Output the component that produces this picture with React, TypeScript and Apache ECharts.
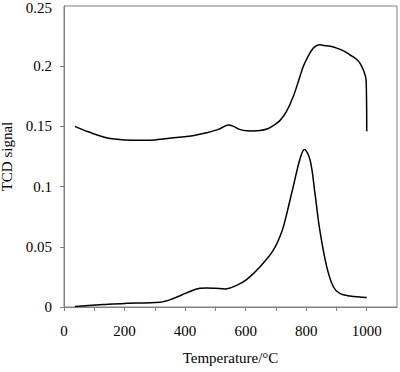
import React, { useEffect, useRef } from "react";
import * as echarts from "echarts";

const upperT = [36, 80, 140, 200, 260, 300, 372, 430, 471, 510, 530, 543, 560, 580, 603, 625, 647, 670, 690, 713, 735, 757, 775, 790, 808, 823, 835, 845, 860, 880, 901, 925, 945, 965, 978, 990, 998, 1000];
const upperV = [0.150, 0.1455, 0.1405, 0.1388, 0.1386, 0.1388, 0.1408, 0.1425, 0.1447, 0.1475, 0.150, 0.1511, 0.150, 0.1475, 0.1463, 0.1462, 0.1465, 0.1478, 0.1505, 0.1548, 0.1625, 0.1746, 0.188, 0.1996, 0.209, 0.2149, 0.2172, 0.2178, 0.2172, 0.2165, 0.215, 0.2125, 0.2093, 0.206, 0.2024, 0.196, 0.1885, 0.146];

const lowerT = [36, 130, 200, 317, 361, 405, 449, 471, 500, 532, 570, 603, 647, 691, 720, 736, 757, 780, 794, 813, 829, 845, 868, 890, 912, 945, 1000];
const lowerV = [0.0005, 0.002, 0.003, 0.004, 0.007, 0.0117, 0.0155, 0.0158, 0.0155, 0.015, 0.018, 0.0228, 0.0333, 0.047, 0.063, 0.0777, 0.0998, 0.1234, 0.1309, 0.122, 0.0943, 0.0638, 0.0333, 0.0166, 0.0111, 0.0092, 0.0078];

const xLabels = ["0", "200", "400", "600", "800", "1000"];
const yTop = 0.25;

const FONT = "Liberation Serif";

export default function App() {
  const ref = useRef<HTMLDivElement>(null);
  useEffect(() => {
    if (!ref.current) return;
    const chart = echarts.init(ref.current, null, { renderer: "svg" });
    const pair = (t: number[], v: number[]) => t.map((x, i) => [x, v[i]]);
    chart.setOption({
      animation: false,
      textStyle: { fontFamily: FONT },
      grid: {
        left: 64,
        right: 3,
        top: 6,
        bottom: 65,
        containLabel: false,
        outerBoundsMode: "none",
        show: true,
        borderColor: "#808080",
        borderWidth: 1,
      },
      xAxis: {
        type: "value",
        min: 0,
        max: 1100,
        interval: 100,
        name: "Temperature/°C",
        nameLocation: "middle",
        nameGap: 43,
        nameTextStyle: { fontFamily: FONT, fontSize: 15, color: "#000" },
        axisLine: { show: true, lineStyle: { color: "#808080" } },
        axisTick: { show: true, inside: false, length: 4, lineStyle: { color: "#808080" } },
        splitLine: { show: false },
        axisLabel: {
          fontFamily: FONT,
          fontSize: 15,
          color: "#000",
          margin: 16,
          showMaxLabel: false,
          formatter: (v: number) => (xLabels.includes(String(v)) ? String(v) : ""),
        },
      },
      yAxis: {
        type: "value",
        min: 0,
        max: yTop,
        interval: 0.05,
        name: "TCD signal",
        nameLocation: "middle",
        nameGap: 50,
        nameTextStyle: { fontFamily: FONT, fontSize: 15, color: "#000" },
        axisLine: { show: true, lineStyle: { color: "#808080" } },
        axisTick: { show: true, inside: false, length: 4, lineStyle: { color: "#808080" } },
        splitLine: { show: false },
        axisLabel: {
          fontFamily: FONT,
          fontSize: 15,
          color: "#000",
          margin: 12,
          showMaxLabel: false,
          formatter: (v: number) => String(Math.round(v * 100) / 100),
        },
      },
      series: [
        {
          type: "line",
          data: pair(upperT, upperV),
          showSymbol: false,
          smooth: 0.35,
          lineStyle: { color: "#000", width: 1.5 },
        },
        {
          type: "line",
          data: pair(lowerT, lowerV),
          showSymbol: false,
          smooth: 0.35,
          lineStyle: { color: "#000", width: 1.5 },
        },
      ],
    });
    const topY = chart.convertToPixel({ yAxisIndex: 0 }, yTop) as number;
    const axisX = chart.convertToPixel({ xAxisIndex: 0 }, 0) as number;
    chart.setOption({
      graphic: [
        {
          type: "text",
          x: axisX - 12,
          y: Math.max(topY, 8),
          style: {
            text: String(yTop),
            fontFamily: FONT,
            fontSize: 15,
            fill: "#000",
            align: "right",
            verticalAlign: "middle",
          },
        },
      ],
    });
    return () => chart.dispose();
  }, []);
  return <div ref={ref} style={{ width: 400, height: 372, position: "absolute", left: 0, top: 0, background: "#fff" }} />;
}
